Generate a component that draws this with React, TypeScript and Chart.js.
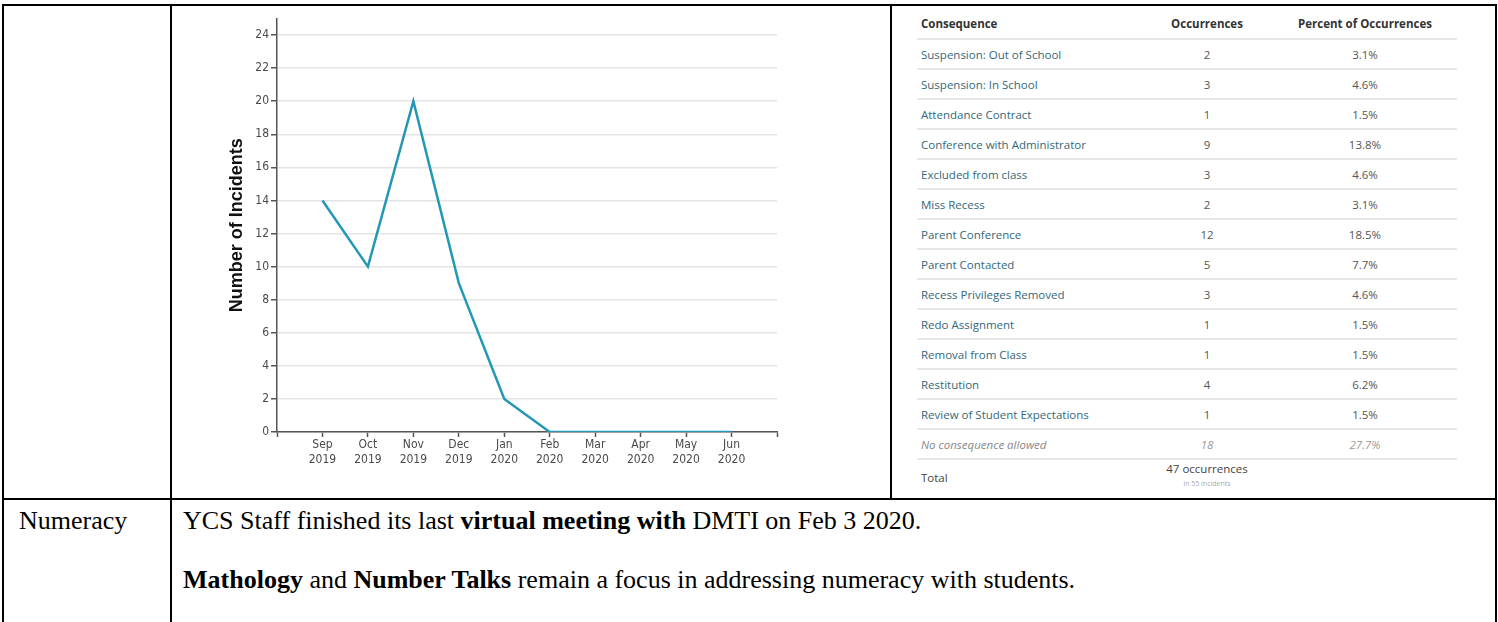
import React, { useEffect, useRef } from "react";
import { Chart, registerables } from "chart.js";

Chart.register(...registerables);

// ---- Chart data ----
const monthLabels = ["Sep", "Oct", "Nov", "Dec", "Jan", "Feb", "Mar", "Apr", "May", "Jun"];
const yearLabels = ["2019", "2019", "2019", "2019", "2020", "2020", "2020", "2020", "2020", "2020"];
const incidents = [14, 10, 20, 9, 2, 0, 0, 0, 0, 0];
const yAxisTitle = "Number of Incidents";

// ---- Table data ----
const consequences = [
  "Suspension: Out of School",
  "Suspension: In School",
  "Attendance Contract",
  "Conference with Administrator",
  "Excluded from class",
  "Miss Recess",
  "Parent Conference",
  "Parent Contacted",
  "Recess Privileges Removed",
  "Redo Assignment",
  "Removal from Class",
  "Restitution",
  "Review of Student Expectations",
  "No consequence allowed",
];
const occurrences = [2, 3, 1, 9, 3, 2, 12, 5, 3, 1, 1, 4, 1, 18];
const percents = ["3.1%", "4.6%", "1.5%", "13.8%", "4.6%", "3.1%", "18.5%", "7.7%", "4.6%", "1.5%", "1.5%", "6.2%", "1.5%", "27.7%"];
const tableHeaders = ["Consequence", "Occurrences", "Percent of Occurrences"];
const totalLabel = "Total";
const totalText = "47 occurrences";
const totalSub = "in 55 incidents";

const TICK_FONT = "'Liberation Sans Narrow', 'DejaVu Sans Condensed', 'Roboto', sans-serif";
const TABLE_FONT = "'Open Sans', 'Noto Sans', sans-serif";
const SERIF = "'Liberation Serif', 'Times New Roman', serif";

function IncidentChart() {
  const ref = useRef<HTMLCanvasElement | null>(null);
  useEffect(() => {
    if (!ref.current) return;
    const chart = new Chart(ref.current, {
      type: "line",
      data: {
        datasets: [
          {
            data: incidents.map((v, i) => ({ x: i, y: v })),
            borderColor: "#2398b6",
            borderWidth: 2.5,
            pointRadius: 0,
            tension: 0,
            fill: false,
          },
        ],
      },
      options: {
        responsive: false,
        animation: false,
        layout: { padding: { top: 10.5, right: 23, left: 0, bottom: 0 } },
        plugins: { legend: { display: false }, tooltip: { enabled: false } },
        scales: {
          x: {
            type: "linear",
            min: -1,
            max: 10,
            ticks: {
              stepSize: 1,
              autoSkip: false,
              maxRotation: 0,
              includeBounds: false,
              padding: 1,
              color: "#4a4a4a",
              font: { family: TICK_FONT, size: 12 },
              callback: (v: any) => {
                const i = Number(v);
                if (i >= 0 && i < monthLabels.length) return [monthLabels[i], yearLabels[i]];
                return "";
              },
            },
            grid: { drawOnChartArea: false, tickLength: 5, tickColor: "#555", tickWidth: 1.5 },
            border: { color: "#555", width: 1.5 },
            afterFit: (s: any) => {
              s.height = 46;
            },
          },
          y: {
            min: 0,
            max: 25,
            ticks: {
              stepSize: 2,
              includeBounds: false,
              padding: 2,
              color: "#4a4a4a",
              font: { family: TICK_FONT, size: 12 },
            },
            grid: { color: "#e4e4e4", lineWidth: 1.5, tickLength: 6, tickColor: "#555", tickWidth: 1.5 },
            border: { color: "#555", width: 1.5 },
            title: {
              display: true,
              text: yAxisTitle,
              color: "#111",
              font: { family: "'Liberation Sans', Arial, sans-serif", size: 18, weight: "bold" },
              padding: { top: 46, bottom: 0 },
            },
            afterFit: (s: any) => {
              s.width = 97;
            },
          },
        },
      } as any,
    });
    return () => chart.destroy();
  }, []);
  return <canvas ref={ref} width={620} height={470} style={{ display: "block" }} />;
}

const line = (style: React.CSSProperties): React.CSSProperties => ({ position: "absolute", background: "#000", ...style });

export default function App() {
  const rowStyle: React.CSSProperties = {
    position: "absolute",
    left: 0,
    width: 540,
    height: 28,
    borderBottom: "2px solid #e6e6e6",
    display: "flex",
    alignItems: "center",
    fontSize: 11.5,
  };
  const c1: React.CSSProperties = { width: 224, paddingLeft: 4, boxSizing: "border-box", whiteSpace: "nowrap" };
  const c2: React.CSSProperties = { width: 132, textAlign: "center" };
  const c3: React.CSSProperties = { width: 184, textAlign: "center" };
  const textStyle: React.CSSProperties = {
    position: "absolute",
    fontFamily: SERIF,
    fontSize: 26,
    lineHeight: "30px",
    color: "#000",
    whiteSpace: "nowrap",
  };

  return (
    <div style={{ position: "absolute", left: 0, top: 0, width: 1498, height: 622, background: "#fff", overflow: "hidden" }}>
      {/* borders */}
      <div style={line({ left: 2, top: 4, width: 1495, height: 2 })} />
      <div style={line({ left: 2, top: 4, width: 2, height: 640 })} />
      <div style={line({ left: 170, top: 4, width: 2, height: 640 })} />
      <div style={line({ left: 890, top: 4, width: 2, height: 496 })} />
      <div style={line({ left: 1495, top: 4, width: 2, height: 640 })} />
      <div style={line({ left: 2, top: 498, width: 1495, height: 2 })} />

      {/* chart */}
      <div style={{ position: "absolute", left: 180, top: 8, width: 620, height: 470 }}>
        <IncidentChart />
      </div>

      {/* table */}
      <div style={{ position: "absolute", left: 917, top: 8, width: 540, height: 490, fontFamily: TABLE_FONT }}>
        <div style={{ ...rowStyle, top: 0, height: 30, fontWeight: 700, color: "#333" }}>
          <div style={c1}>{tableHeaders[0]}</div>
          <div style={c2}>{tableHeaders[1]}</div>
          <div style={c3}>{tableHeaders[2]}</div>
        </div>
        {consequences.map((name, i) => {
          const italic = i === consequences.length - 1;
          return (
            <div key={name} style={{ ...rowStyle, top: 32 + i * 30, fontStyle: italic ? "italic" : "normal" }}>
              <div style={{ ...c1, color: italic ? "#888" : "#32687a" }}>{name}</div>
              <div style={{ ...c2, color: italic ? "#999" : "#555" }}>{occurrences[i]}</div>
              <div style={{ ...c3, color: italic ? "#999" : "#555" }}>{percents[i]}</div>
            </div>
          );
        })}
        <div style={{ ...rowStyle, top: 452, height: 34, borderBottom: "none", color: "#444" }}>
          <div style={c1}>{totalLabel}</div>
          <div style={{ ...c2, display: "flex", flexDirection: "column", alignItems: "center" }}>
            <div style={{ lineHeight: "14px", marginTop: -2 }}>{totalText}</div>
            <div style={{ fontSize: 7, color: "#aaa", lineHeight: "12px", marginTop: 2 }}>{totalSub}</div>
          </div>
          <div style={c3}></div>
        </div>
      </div>

      {/* bottom row */}
      <div style={{ ...textStyle, left: 19, top: 506 }}>Numeracy</div>
      <div style={{ ...textStyle, left: 183, top: 506 }}>
        YCS Staff finished its last <b>virtual meeting with</b> DMTI on Feb 3 2020.
      </div>
      <div style={{ ...textStyle, left: 183, top: 565 }}>
        <b>Mathology</b> and <b>Number Talks</b> remain a focus in addressing numeracy with students.
      </div>
    </div>
  );
}
